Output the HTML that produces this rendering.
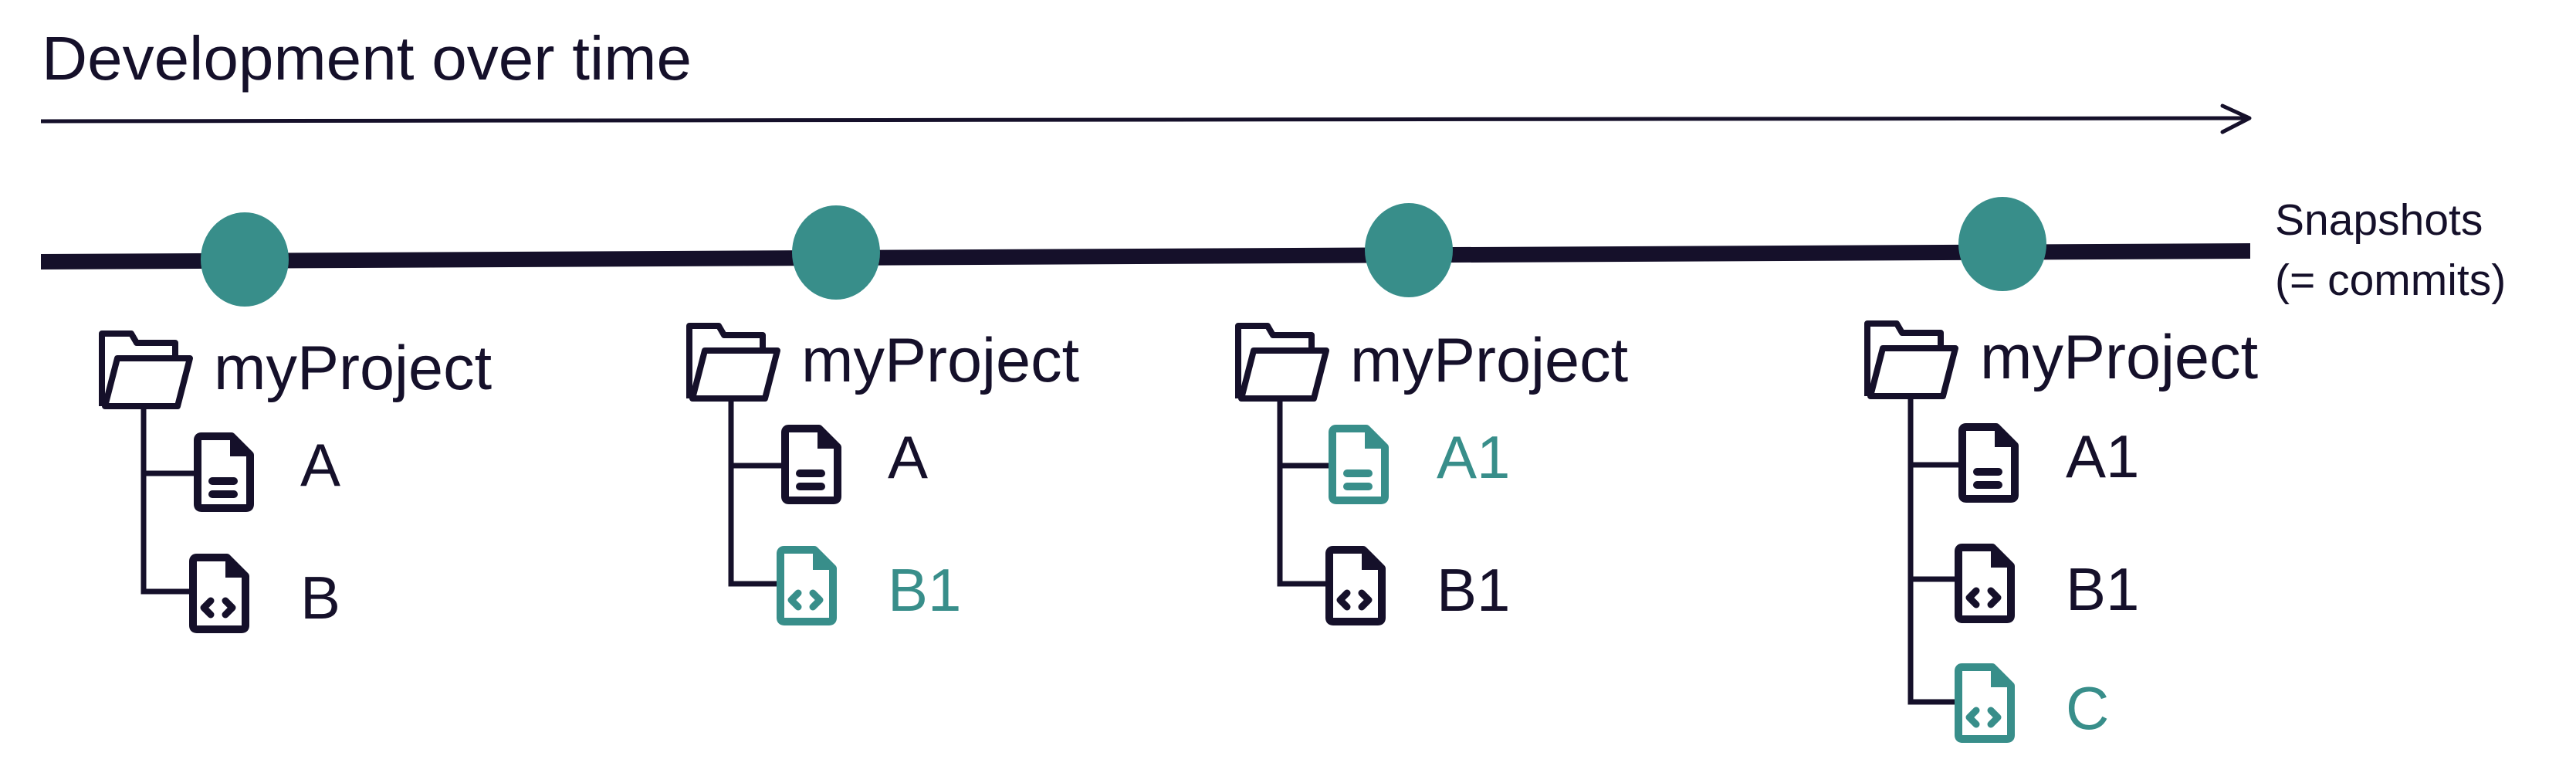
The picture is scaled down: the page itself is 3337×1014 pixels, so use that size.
<!DOCTYPE html>
<html><head><meta charset="utf-8"><style>
html,body{margin:0;padding:0;background:#fff;width:3337px;height:1014px;overflow:hidden}
svg{display:block}
text{font-family:"Liberation Sans",sans-serif}
</style></head><body>
<svg width="3337" height="1014" viewBox="0 0 3337 1014" xmlns="http://www.w3.org/2000/svg">
<defs>
<g id="folder" fill="none" stroke-width="8" stroke-linejoin="round">
<path d="M0,94 V0 H38 L45,12 H95 V32"/>
<path d="M4,94 L20,32 H114 L98,94 Z"/>
</g>
<g id="docshape" fill="none" stroke-width="10" stroke-linejoin="round">
<path d="M9,4 H48 L72,28 V92 Q72,97 67,97 H9 Q4,97 4,92 V9 Q4,4 9,4 Z"/>
</g>
<g id="doc">
<use href="#docshape"/>
<path d="M46,4 V30 H72 Z" stroke="none"/>
<rect x="18" y="57" width="38" height="10" rx="5" stroke="none"/>
<rect x="18" y="74" width="38" height="10" rx="5" stroke="none"/>
</g>
<g id="code">
<use href="#docshape"/>
<path d="M46,4 V30 H72 Z" stroke="none"/>
<polyline points="27,60 18,69 27,78" fill="none" stroke-width="9" stroke-linecap="round" stroke-linejoin="round"/>
<polyline points="46,60 55,69 46,78" fill="none" stroke-width="9" stroke-linecap="round" stroke-linejoin="round"/>
</g>
</defs>

<text x="54" y="103" font-size="80" fill="#15102a" textLength="842" lengthAdjust="spacingAndGlyphs">Development over time</text>
<line x1="53" y1="157" x2="2913" y2="153" stroke="#15102a" stroke-width="5"/>
<polyline points="2879,137 2914,153 2879,171" fill="none" stroke="#15102a" stroke-width="5" stroke-linecap="round" stroke-linejoin="round"/>

<polygon points="53,329 2915,315 2915,335 53,349" fill="#15102a"/>
<ellipse cx="317" cy="336" rx="57" ry="61" fill="#388e8a"/>
<ellipse cx="1083" cy="327" rx="57" ry="61" fill="#388e8a"/>
<ellipse cx="1825" cy="324" rx="57" ry="61" fill="#388e8a"/>
<ellipse cx="2594" cy="316" rx="57" ry="61" fill="#388e8a"/>

<text x="2947" y="304" font-size="57" fill="#15102a">Snapshots</text>
<text x="2947" y="382" font-size="57" fill="#15102a">(= commits)</text>

<!-- Group 1 -->
<g transform="translate(132,432)" stroke="#15102a" fill="#15102a">
<use href="#folder"/>
<text x="145" y="72" font-size="81" stroke="none">myProject</text>
<path d="M54,94 V334 H114 M54,181 H120" fill="none" stroke-width="7"/>
<g transform="translate(120,129)"><use href="#doc"/></g>
<text x="257" y="197" font-size="78" stroke="none">A</text>
<g transform="translate(114,286)"><use href="#code"/></g>
<text x="257" y="369" font-size="78" stroke="none">B</text>
</g>

<!-- Group 2 -->
<g transform="translate(893,422)" stroke="#15102a" fill="#15102a">
<use href="#folder"/>
<text x="145" y="72" font-size="81" stroke="none">myProject</text>
<path d="M54,94 V334 H114 M54,181 H120" fill="none" stroke-width="7"/>
<g transform="translate(120,129)"><use href="#doc"/></g>
<text x="257" y="197" font-size="78" stroke="none">A</text>
<g transform="translate(114,286)" stroke="#388e8a" fill="#388e8a"><use href="#code"/></g>
<text x="257" y="369" font-size="78" stroke="none" fill="#388e8a">B1</text>
</g>

<!-- Group 3 -->
<g transform="translate(1604,422)" stroke="#15102a" fill="#15102a">
<use href="#folder"/>
<text x="145" y="72" font-size="81" stroke="none">myProject</text>
<path d="M54,94 V334 H114 M54,181 H120" fill="none" stroke-width="7"/>
<g transform="translate(118,129)" stroke="#388e8a" fill="#388e8a"><use href="#doc"/></g>
<text x="257" y="197" font-size="78" stroke="none" fill="#388e8a">A1</text>
<g transform="translate(114,286)"><use href="#code"/></g>
<text x="257" y="369" font-size="78" stroke="none">B1</text>
</g>

<!-- Group 4 -->
<g transform="translate(2419,419)" stroke="#15102a" fill="#15102a">
<use href="#folder"/>
<text x="146" y="71" font-size="81" stroke="none">myProject</text>
<path d="M56,94 V490 H116 M56,183 H120 M56,331 H116" fill="none" stroke-width="7"/>
<g transform="translate(119,130)"><use href="#doc"/></g>
<text x="257" y="199" font-size="78" stroke="none">A1</text>
<g transform="translate(114,286)"><use href="#code"/></g>
<text x="257" y="371" font-size="78" stroke="none">B1</text>
<g transform="translate(114,441)" stroke="#388e8a" fill="#388e8a"><use href="#code"/></g>
<text x="257" y="525" font-size="78" stroke="none" fill="#388e8a">C</text>
</g>
</svg>
</body></html>
